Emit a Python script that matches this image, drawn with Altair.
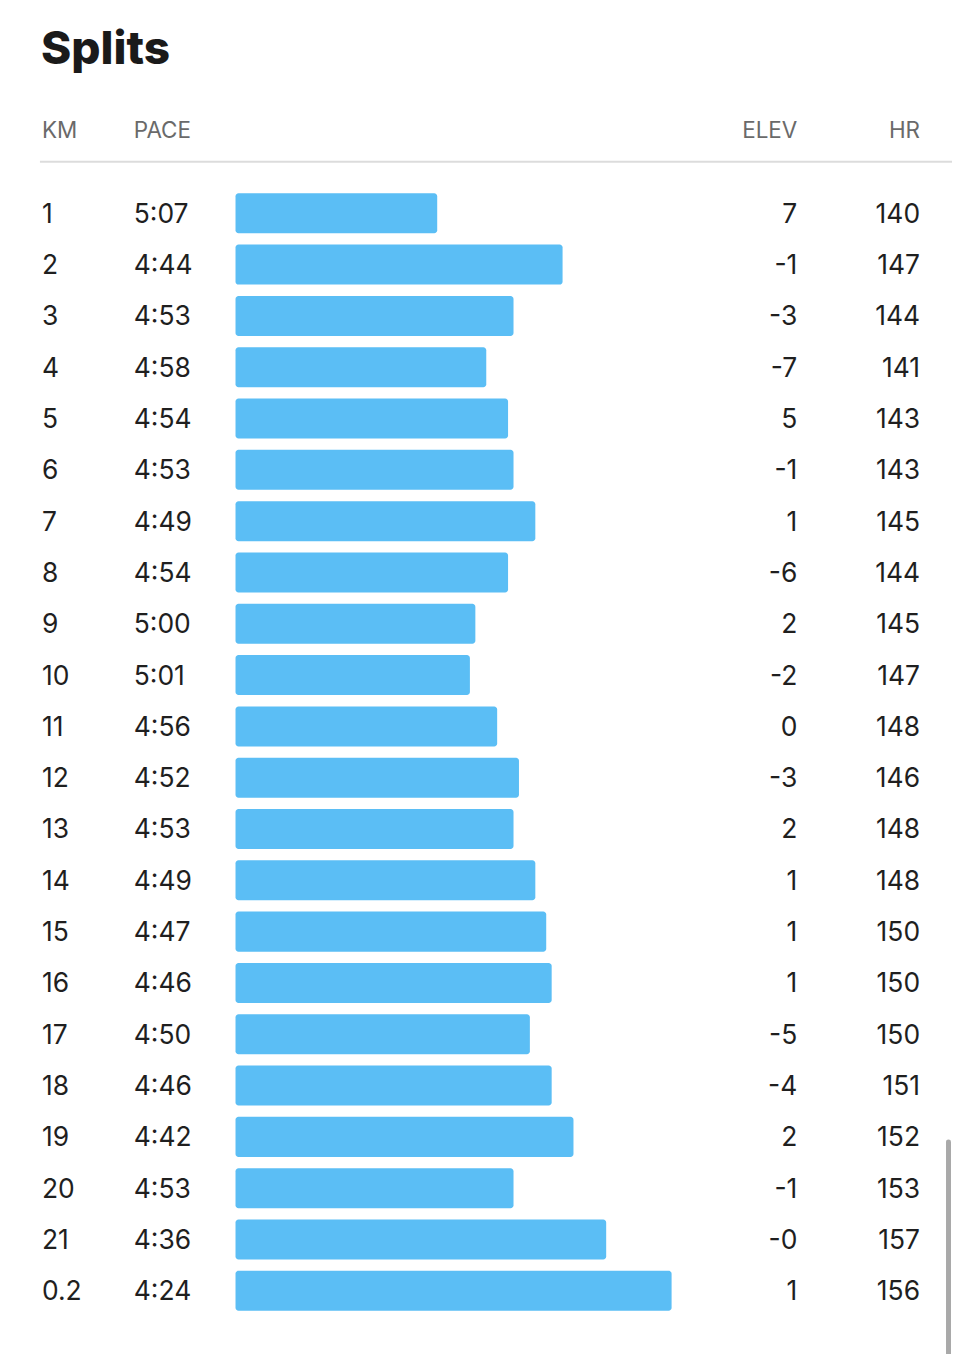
import pandas as pd
import altair as alt

# Split table values
km_labels = ['1', '2', '3', '4', '5', '6', '7', '8', '9', '10', '11',
             '12', '13', '14', '15', '16', '17', '18', '19', '20', '21', '0.2']
pace_labels = ['5:07', '4:44', '4:53', '4:58', '4:54', '4:53', '4:49', '4:54',
               '5:00', '5:01', '4:56', '4:52', '4:53', '4:49', '4:47', '4:46',
               '4:50', '4:46', '4:42', '4:53', '4:36', '4:24']
elev_labels = ['7', '-1', '-3', '-7', '5', '-1', '1', '-6', '2', '-2', '0',
               '-3', '2', '1', '1', '1', '-5', '-4', '2', '-1', '-0', '1']
hr_values = [140, 147, 144, 141, 143, 143, 145, 144, 145, 147, 148,
             146, 148, 148, 150, 150, 150, 151, 152, 153, 157, 156]
header_labels = ['KM', 'PACE', 'ELEV', 'HR']

FONT = 'Inter'
BAR_COLOR = '#5bbef5'
TEXT_COLOR = '#1f1f1f'


def to_seconds(p):
    m, s = p.split(':')
    return int(m) * 60 + int(s)


df = pd.DataFrame({
    'km': km_labels,
    'pace': pace_labels,
    'pace_sec': [to_seconds(p) for p in pace_labels],
    'elev': elev_labels,
    'hr': [str(h) for h in hr_values],
})

y_enc = alt.Y('km:N', sort=km_labels, axis=None,
              scale=alt.Scale(range=[178.6, 1309.8], paddingInner=0.22, paddingOuter=0.11))

base = alt.Chart(df)

bars = base.mark_bar(color=BAR_COLOR, cornerRadius=3).encode(
    y=y_enc,
    x=alt.X('pace_sec:Q', axis=None, scale=alt.Scale(domain=[344, 264], range=[228, 665])),
    x2=alt.X2(datum=344),
)


def column(field, x, align):
    return base.mark_text(align=align, baseline='middle', dy=1.5, font=FONT,
                          fontSize=26.5, color=TEXT_COLOR).encode(
        y=y_enc, x=alt.value(x), text=f'{field}:N')


km_text = column('km', 34, 'left')
pace_text = column('pace', 126, 'left')
elev_text = column('elev', 791, 'right')
hr_text = column('hr', 914, 'right')


def header(label, x, align):
    return alt.Chart(pd.DataFrame({'t': [label]})).mark_text(
        align=align, baseline='middle', font=FONT, fontSize=22.5, color='#6a6a6a'
    ).encode(x=alt.value(x), y=alt.value(121.5), text='t:N')


headers = [header(header_labels[0], 34, 'left'), header(header_labels[1], 126, 'left'),
           header(header_labels[2], 791, 'right'), header(header_labels[3], 914, 'right')]

title = alt.Chart(pd.DataFrame({'t': ['Splits']})).mark_text(
    align='left', baseline='alphabetic', font=FONT, fontSize=46, fontWeight=800, color='#1a1a1a'
).encode(x=alt.value(33), y=alt.value(55), text='t:N')

separator = alt.Chart(pd.DataFrame({'a': [0]})).mark_rule(
    color='#dcdcdc', strokeWidth=2
).encode(x=alt.value(32), x2=alt.value(946), y=alt.value(152.7))

scrollbar = alt.Chart(pd.DataFrame({'a': [0]})).mark_rule(
    color='#a9a9a9', strokeWidth=5, strokeCap='round'
).encode(x=alt.value(942.5), y=alt.value(1135), y2=alt.value(1350))

chart = alt.layer(
    title, *headers, separator, bars, km_text, pace_text, elev_text, hr_text, scrollbar
).properties(
    width=946, height=1346, padding=0, autosize='none', background='white'
).configure_view(
    strokeWidth=0
)

chart.save("out.html", embed_options={"renderer": "svg", "actions": False})
